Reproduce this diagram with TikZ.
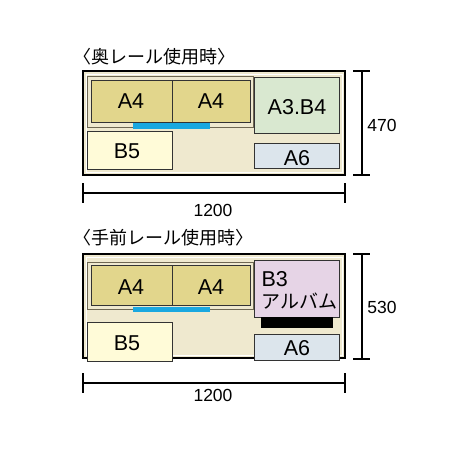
\documentclass[tikz,border=0pt]{standalone}
\usepackage{fontspec}
\setmainfont{Liberation Sans}
\newfontfamily\jfont{Noto Sans CJK JP}

\definecolor{base}{HTML}{EFE9CF}
\definecolor{afour}{HTML}{E2D68C}
\definecolor{athree}{HTML}{D9E8D0}
\definecolor{bfive}{HTML}{FFFBD8}
\definecolor{asix}{HTML}{DCE5EC}
\definecolor{bthree}{HTML}{E6D4E6}
\definecolor{rail}{HTML}{1AA8E0}
\definecolor{grp}{HTML}{6E6752}

\begin{document}
\begin{tikzpicture}[x=1pt,y=-1pt,
	frame/.style={draw=black,line width=2.6pt,fill=base},
	inner/.style={draw=white,line width=0.8pt},
	group/.style={draw=grp,line width=1pt,fill=base},
	paper/.style={draw=black!80,line width=0.9pt},
	lbl/.style={font=\fontsize{21.5}{23}\selectfont},
	dim/.style={line width=1.8pt},
	num/.style={font=\fontsize{17.5}{19}\selectfont},
	ttl/.style={font=\jfont\fontsize{18}{20}\selectfont,anchor=west}]
	\useasboundingbox (0,0) rectangle (460,460);

	% upper: back rail
	\node[ttl] (t1) at (70,57) {〈奥レール使用時〉};
	\draw[frame] (83,71) rectangle (345,175);
	\draw[inner] (86,74) rectangle (342,172);
	\draw[group] (87,76) rectangle (253,127);
	\draw[paper,fill=afour] (91,80) rectangle (172,122);
	\draw[paper,fill=afour] (172,80) rectangle (250,122);
	\draw[draw=none,fill=rail] (133,123) rectangle (210,129);
	\draw[paper,fill=athree] (254,77) rectangle (339,133);
	\draw[paper,fill=bfive] (87,131) rectangle (172,169);
	\draw[paper,fill=asix] (254,143) rectangle (339,168);

	\node[lbl] (a41) at (131,101) {A4};
	\node[lbl] (a42) at (211,101) {A4};
	\node[lbl] (a3) at (297,107) {A3.B4};
	\node[lbl] (b51) at (127,151) {B5};
	\node[lbl] (a61) at (297,158) {A6};

	\draw[dim] (362,71)--(362,175);
	\draw[dim] (353,71)--(370,71);
	\draw[dim] (353,175)--(370,175);
	\node[num] (h1) at (382,125) {470};

	\draw[dim] (83,193)--(345,193);
	\draw[dim] (83,183)--(83,203);
	\draw[dim] (345,183)--(345,203);
	\node[num] (w1) at (213,210) {1200};

	% lower: front rail
	\node[ttl] (t2) at (70,238) {〈手前レール使用時〉};
	\draw[frame] (83,254) rectangle (345,358);
	\draw[inner] (86,257) rectangle (342,355);
	\draw[group] (87,262) rectangle (253,309);
	\draw[paper,fill=afour] (91,265) rectangle (172,305);
	\draw[paper,fill=afour] (172,265) rectangle (250,305);
	\draw[draw=none,fill=rail] (133,307) rectangle (210,312);
	\draw[paper,fill=bthree] (254,260) rectangle (339,317);
	\draw[draw=none,fill=black] (261,317) rectangle (333,328);
	\draw[paper,fill=bfive] (87,322) rectangle (172,361);
	\draw[paper,fill=asix] (254,334) rectangle (339,360);

	\node[lbl] (a43) at (131,287) {A4};
	\node[lbl] (a44) at (211,287) {A4};
	\node[lbl,anchor=west] (b3) at (258,279) {B3};
	\node[font=\jfont\fontsize{19}{21}\selectfont,anchor=west] (alb) at (258,301) {アルバム};
	\node[lbl] (b52) at (127,343) {B5};
	\node[lbl] (a62) at (297,348) {A6};

	\draw[dim] (362,254)--(362,359);
	\draw[dim] (353,254)--(370,254);
	\draw[dim] (353,359)--(370,359);
	\node[num] (h2) at (382,307) {530};

	\draw[dim] (83,383)--(345,383);
	\draw[dim] (83,373)--(83,393);
	\draw[dim] (345,373)--(345,393);
	\node[num] (w2) at (213,395) {1200};
\end{tikzpicture}
\end{document}
